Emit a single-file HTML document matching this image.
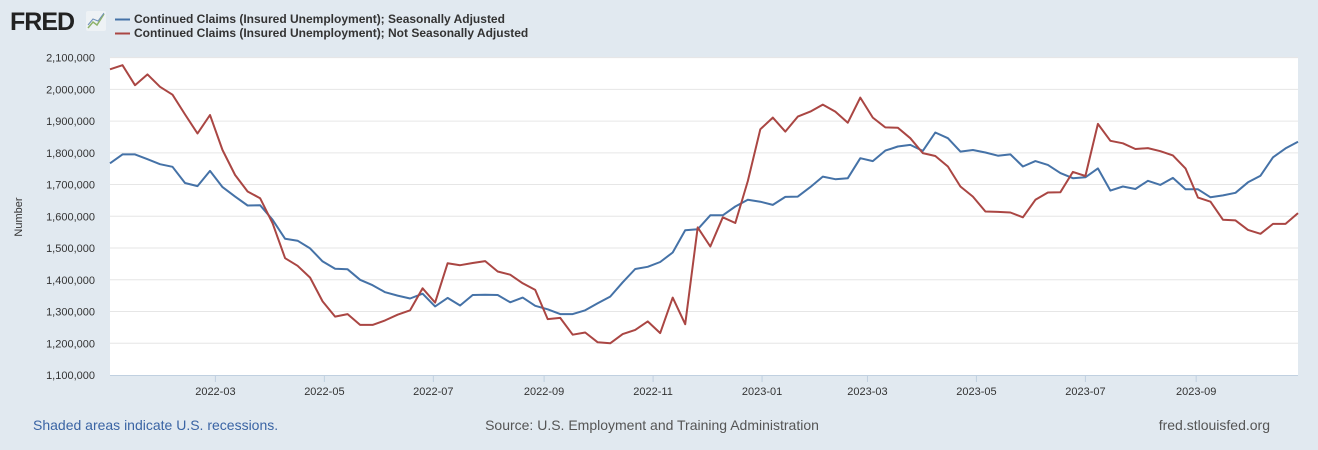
<!DOCTYPE html>
<html><head><meta charset="utf-8"><style>
html,body{margin:0;padding:0;background:#e1e9f0;width:1318px;height:450px;overflow:hidden;font-family:"Liberation Sans",Arial,sans-serif;}
</style></head><body>
<svg id="chart" width="1318" height="450" xmlns="http://www.w3.org/2000/svg" style="position:absolute;left:0;top:0">
<rect x="0" y="0" width="1318" height="450" fill="#e1e9f0"/>
<g>
<text x="10" y="30" font-family="Liberation Sans, sans-serif" font-weight="bold" font-size="25" fill="#222" letter-spacing="-1">FRED</text>
<rect x="86" y="11" width="20" height="20" rx="2" fill="#eef2f5"/>
<polyline points="88,28 93,22 97,25 104,14" fill="none" stroke="#8fb36a" stroke-width="1.5"/>
<polyline points="88,25 93,19 98,21 104,13" fill="none" stroke="#6e8fb8" stroke-width="1"/>
</g>
<g>
<line x1="115" y1="19.5" x2="130" y2="19.5" stroke="#4572a7" stroke-width="2"/>
<text x="134" y="23" font-size="12" font-weight="bold" fill="#333">Continued Claims (Insured Unemployment); Seasonally Adjusted</text>
<line x1="115" y1="33.5" x2="130" y2="33.5" stroke="#aa4643" stroke-width="2"/>
<text x="134" y="37" font-size="12" font-weight="bold" fill="#333">Continued Claims (Insured Unemployment); Not Seasonally Adjusted</text>
</g>
<rect x="110" y="57.6" width="1188" height="317.4" fill="#fff"/>
<g id="grid"></g>
<g id="xaxis"></g>
<g id="yaxis"></g>
<text x="22" y="217" font-size="11" fill="#333" text-anchor="middle" transform="rotate(-90 22 217)">Number</text>
<g id="series"></g>
<text x="33" y="430" font-size="14" fill="#3a64a4">Shaded areas indicate U.S. recessions.</text>
<text x="652" y="430" font-size="14" fill="#555" text-anchor="middle">Source: U.S. Employment and Training Administration</text>
<text x="1270" y="430" font-size="14" fill="#555" text-anchor="end">fred.stlouisfed.org</text>
</svg>
<script>
const startDate = "2022-01-01";
const seasonallyAdjusted = [1767,1795,1795,1780,1764,1756,1705,1695,1743,1692,1662,1634,1635,1589,1529,1523,1499,1458,1435,1433,1400,1383,1361,1350,1341,1356,1316,1343,1319,1352,1353,1352,1329,
1344,1318,1307,1292,1292,1304,1326,1347,1392,1434,1441,1456,1486,1556,1559,1603,1603,1631,1652,1646,1636,1661,1662,1692,1725,1717,1720,1783,1774,1807,1820,1825,
1806,1864,1846,1804,1809,1801,1791,1795,1757,1774,1762,1736,1720,1723,1751,1681,1694,1686,1712,1699,1721,1685,1685,1660,1666,1674,1707,1728,1786,1814,1835];
const notSeasonallyAdjusted = [2063,2076,2013,2047,2008,1983,1921,1861,1919,1809,1730,1678,1657,1578,1468,1444,1407,1332,1284,1292,1258,1258,1272,1290,1304,1373,1328,1452,1446,1453,1459,1426,1416,
1389,1368,1276,1280,1227,1234,1203,1200,1229,1242,1269,1232,1344,1260,1565,1505,1597,1579,1711,1874,1911,1867,1914,1930,1952,1930,1895,1974,1911,1880,1879,1846,
1799,1790,1757,1694,1662,1615,1614,1612,1597,1652,1675,1676,1740,1727,1891,1838,1830,1812,1815,1805,1792,1751,1659,1646,1589,1587,1557,1545,1576,1576,1610];
const yTicks = [1100000,1200000,1300000,1400000,1500000,1600000,1700000,1800000,1900000,2000000,2100000];
const xTickLabels = ["2022-03","2022-05","2022-07","2022-09","2022-11","2023-01","2023-03","2023-05","2023-07","2023-09"];

const NS="http://www.w3.org/2000/svg";
const L=110,R=1298,T=57.6,B=375;
const yMin=1100000,yMax=2100000;
const t0=Date.parse(startDate+"T00:00:00Z");
const pxPerDay=(R-L)/((seasonallyAdjusted.length-1)*7);
function yScale(v){return B-(v-yMin)/(yMax-yMin)*(B-T);}
function xDate(s){return L+(Date.parse(s+"-01T00:00:00Z")-t0)/86400000*pxPerDay;}
function xIdx(i){return L+i*7*pxPerDay;}
function mk(tag,attrs,parent){const e=document.createElementNS(NS,tag);for(const k in attrs)e.setAttribute(k,attrs[k]);parent.appendChild(e);return e;}
const grid=document.getElementById('grid'),ya=document.getElementById('yaxis'),xa=document.getElementById('xaxis'),se=document.getElementById('series');
yTicks.forEach(v=>{
  const y=yScale(v);
  if(v>yMin){const g=mk('line',{x1:L,x2:R,y1:y,y2:y,stroke:'#e6e6e6','stroke-width':1},grid);
  
  }
  const t=mk('text',{x:95,y:y+4,'font-size':11,fill:'#333','text-anchor':'end'},ya);
  t.textContent=v.toLocaleString('en-US');
  
  
});
const ax=mk('line',{x1:L,x2:R,y1:B+0.5,y2:B+0.5,stroke:'#c0d0e0','stroke-width':1},xa);


xTickLabels.forEach(s=>{
  const x=xDate(s);
  const tk=mk('line',{x1:x,x2:x,y1:B,y2:B+7,stroke:'#c0d0e0','stroke-width':1},xa);
  
  
  const t=mk('text',{x:x,y:395,'font-size':11,fill:'#333','text-anchor':'middle'},xa);
  t.textContent=s;
  
  
});
function line(data,color,name){
  const pts=data.map((v,i)=>xIdx(i).toFixed(1)+","+yScale(v*1000).toFixed(1)).join(" ");
  const p=mk('polyline',{points:pts,fill:'none',stroke:color,'stroke-width':2,'stroke-linejoin':'round'},se);
  
  
}
line(seasonallyAdjusted,'#4572a7','series-seasonally-adjusted');
line(notSeasonallyAdjusted,'#aa4643','series-not-seasonally-adjusted');
</script>
</body></html>
